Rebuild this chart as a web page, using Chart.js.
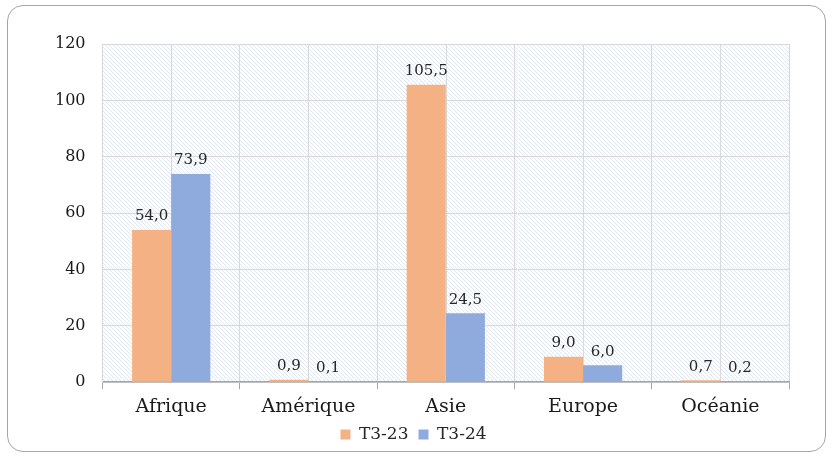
<!DOCTYPE html>
<html>
<head>
<meta charset="utf-8">
<script src="https://cdn.jsdelivr.net/npm/chart.js@4"></script>
<style>
  html, body { margin: 0; padding: 0; background: #fff; }
  #frame {
    position: absolute; left: 7px; top: 5px; width: 817px; height: 445px;
    border: 1.5px solid #a6a6a6; border-radius: 16px;
  }
  #wrap { position: absolute; left: 0; top: 0; width: 832px; height: 456px; }
</style>
</head>
<body>
<div id="frame"></div>
<div id="wrap"><canvas id="chart"></canvas></div>
<script>
// Regions and quarterly values
const regions = ['Afrique', 'Amérique', 'Asie', 'Europe', 'Océanie'];
const t323 = [54.0, 0.9, 105.5, 9.0, 0.7];
const t324 = [73.9, 0.1, 24.5, 6.0, 0.2];
const yTicks = [0, 20, 40, 60, 80, 100, 120];

const serif = '"DejaVu Serif", "Liberation Serif", serif';

// diagonal hatch for the plot background
function hatch() {
    const c = document.createElement('canvas');
    c.width = 4; c.height = 4;
    const g = c.getContext('2d');
    g.fillStyle = '#ffffff';
    g.fillRect(0, 0, 4, 4);
    g.strokeStyle = '#e0e6ee';
    g.lineWidth = 1;
    g.beginPath();
    g.moveTo(-1, -1); g.lineTo(5, 5);
    g.moveTo(-1, 3); g.lineTo(1, 5);
    g.moveTo(3, -1); g.lineTo(5, 1);
    g.stroke();
    return g.createPattern(c, 'repeat');
}

const backdrop = {
    id: 'backdrop',
    beforeDraw(chart) {
        const { ctx, chartArea: a, scales } = chart;
        ctx.save();
        ctx.fillStyle = hatch();
        ctx.fillRect(a.left, a.top, a.right - a.left, a.bottom - a.top);
        // extra vertical gridlines through category centres
        ctx.strokeStyle = '#d9d9d9';
        ctx.lineWidth = 1;
        regions.forEach((r, i) => {
            const x = Math.round(scales.x.getPixelForValue(i)) + 0.5;
            ctx.beginPath();
            ctx.moveTo(x, a.top);
            ctx.lineTo(x, a.bottom);
            ctx.stroke();
        });
        ctx.restore();
    }
};

const valueLabels = {
    id: 'valueLabels',
    afterDatasetsDraw(chart) {
        const ctx = chart.ctx;
        ctx.save();
        ctx.font = '15px ' + serif;
        ctx.fillStyle = '#262626';
        ctx.textAlign = 'center';
        ctx.textBaseline = 'bottom';
        chart.data.datasets.forEach((ds, di) => {
            chart.getDatasetMeta(di).data.forEach((bar, i) => {
                const txt = ds.data[i].toFixed(1).replace('.', ',');
                ctx.fillText(txt, bar.x, bar.y - 6);
            });
        });
        ctx.restore();
    }
};

new Chart(document.getElementById('chart'), {
    type: 'bar',
    data: {
        labels: regions,
        datasets: [
            { label: 'T3-23', data: t323, backgroundColor: '#f4b183' },
            { label: 'T3-24', data: t324, backgroundColor: '#8faadc' }
        ]
    },
    options: {
        responsive: true,
        maintainAspectRatio: false,
        animation: false,
        devicePixelRatio: 1,
        datasets: { bar: { categoryPercentage: 0.57, barPercentage: 1.0 } },
        layout: { padding: { left: 38, right: 43, top: 44, bottom: 3 } },
        plugins: {
            tooltip: { enabled: false },
            legend: {
                position: 'bottom',
                labels: {
                    boxWidth: 10, boxHeight: 10, padding: 10,
                    color: '#262626',
                    font: { family: serif, size: 17 }
                }
            }
        },
        scales: {
            x: {
                offset: true,
                afterFit(scale) { scale.height -= 8; },
                grid: { color: '#d9d9d9', tickColor: '#a6a6a6', tickLength: 7, offset: true },
                border: { color: '#a6a6a6', width: 1.5 },
                ticks: { color: '#1a1a1a', padding: 6, font: { family: serif, size: 19 } }
            },
            y: {
                min: 0, max: 120,
                afterBuildTicks(scale) { scale.ticks = yTicks.map(v => ({ value: v })); },
                grid: { color: '#d9d9d9', drawTicks: false },
                border: { color: '#d9d9d9' },
                ticks: { color: '#1a1a1a', padding: 17, font: { family: serif, size: 16 } }
            }
        }
    },
    plugins: [backdrop, valueLabels]
});
</script>
</body>
</html>
